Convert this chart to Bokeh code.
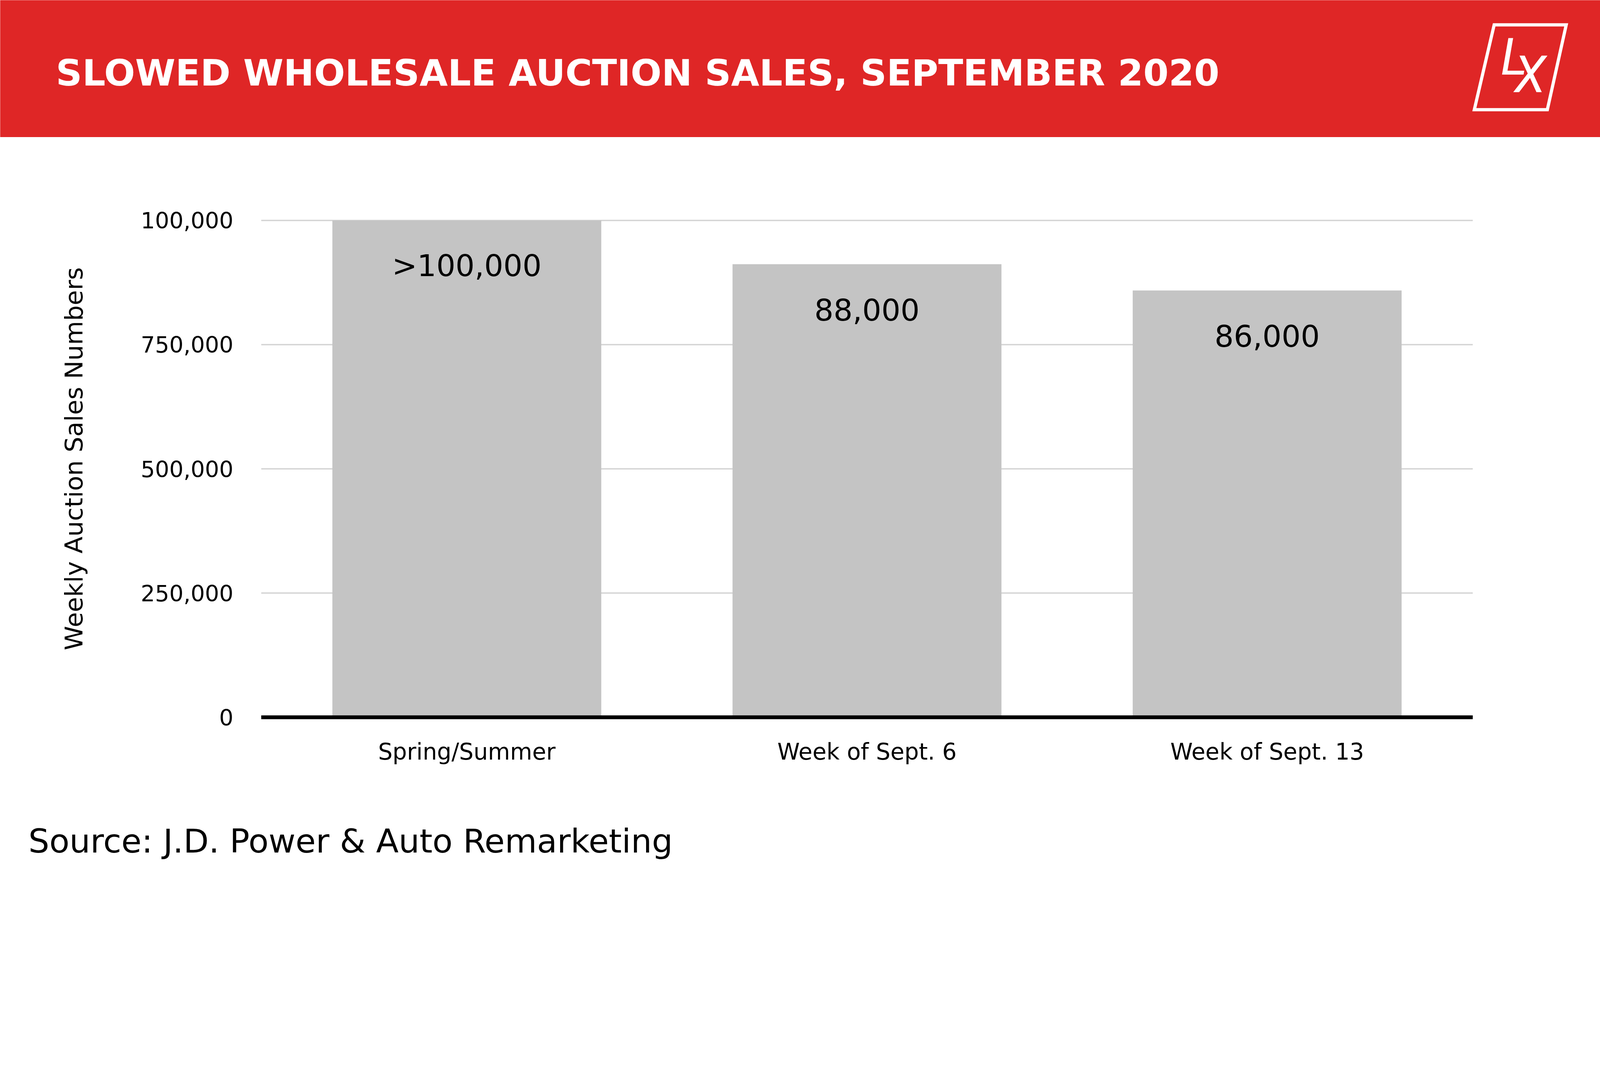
from bokeh.plotting import figure
from bokeh.models import ColumnDataSource, Range1d, FactorRange, FixedTicker, Span
from bokeh.layouts import column
from bokeh.core.properties import value
from bokeh.embed import file_html
from bokeh.resources import INLINE

FONT = "DejaVu Sans"
RED = "#DF2626"
BAR_GREY = "#C4C4C4"
GRID_GREY = "#D4D4D4"

title_text = "SLOWED WHOLESALE AUCTION SALES, SEPTEMBER 2020"
source_text = "Source: J.D. Power & Auto Remarketing"
y_label = "Weekly Auction Sales Numbers"

categories = ["Spring/Summer", "Week of Sept. 6", "Week of Sept. 13"]
bar_values = [1000000, 912000, 859000]
value_labels = [">100,000", "88,000", "86,000"]

y_ticks = [0, 250000, 500000, 750000, 1000000]
y_tick_labels = ["0", "250,000", "500,000", "750,000", "100,000"]

# the page is photographed at ~1.22 device px per css px; layout below is in device px
Z = 1.22
M = 0  # bokeh's page template drops the body margin


def css(v):
    return v / Z


def fs(v):
    return "%.1fpx" % css(v)


PAGE_W = int(5000 / Z) - 2 * M - 1
PAGE_H = int(2727 / Z) - 2 * M - 1

banner_h = round(css(428)) - M
chart_h = round(css(2450)) - round(css(428))
note_h = PAGE_H - banner_h - chart_h

# red header band, data units are device pixels (y pointing down)
banner = figure(width=PAGE_W, height=banner_h,
                x_range=Range1d(M * Z, (M + PAGE_W) * Z), y_range=Range1d((M + banner_h) * Z, M * Z),
                x_axis_location=None, y_axis_location=None, frame_align=False,
                output_backend="svg", toolbar_location=None, min_border=0,
                background_fill_color=RED, border_fill_color=RED, outline_line_color=None)
banner.grid.visible = False
banner.text(x=[174], y=[227], text=[title_text], text_font=value(FONT), text_font_style="bold",
            text_font_size=fs(114), text_color="white", text_baseline="middle")

# LX logo
banner.patch(x=[4666, 4891, 4832, 4604], y=[77, 77, 342, 342], fill_color=None,
             line_color="white", line_width=css(10), line_join="miter")
banner.text(x=[4686, 4729], y=[177, 233], text=["L", "X"], text_font=value("Roboto"),
            text_font_style="italic", text_font_size=fs(160), text_color="white",
            text_baseline="middle")

# bar chart
border_left = round(css(815)) - M
border_right = PAGE_W - (round(css(4599)) - M)
border_top = round(css(600)) - M - banner_h
frame_h = round(css(2264)) - round(css(600))
border_bottom = chart_h - border_top - frame_h

frame_top = (M + banner_h + border_top) * Z
frame_bottom = frame_top + frame_h * Z
zero_px, million_px = 2240, 688
per_unit = (zero_px - million_px) / 1000000
y_start = (zero_px - frame_bottom) / per_unit
y_end = (zero_px - frame_top) / per_unit

source = ColumnDataSource(data=dict(cat=categories, val=bar_values, label=value_labels))

chart = figure(width=PAGE_W, height=chart_h,
               x_range=FactorRange(factors=categories, range_padding=0.014, range_padding_units="absolute"),
               y_range=Range1d(y_start, y_end), frame_align=False,
               output_backend="svg", toolbar_location=None,
               min_border_left=border_left, min_border_right=border_right,
               min_border_top=border_top, min_border_bottom=border_bottom,
               outline_line_color=None)

chart.vbar(x="cat", top="val", width=0.672, source=source, fill_color=BAR_GREY, line_color=None)
chart.text(x="cat", y="val", text="label", source=source, y_offset=css(142),
           text_align="center", text_baseline="middle",
           text_font=value(FONT), text_font_size=fs(94), text_color="black")

chart.add_layout(Span(location=0, dimension="width", line_color="black", line_width=css(12)))

chart.xgrid.grid_line_color = None
chart.ygrid.grid_line_color = GRID_GREY
chart.ygrid.grid_line_width = css(4)

chart.yaxis.ticker = FixedTicker(ticks=y_ticks)
chart.yaxis.major_label_overrides = dict(zip(y_ticks, y_tick_labels))
chart.yaxis.axis_label = y_label
chart.yaxis.axis_label_text_font = FONT
chart.yaxis.axis_label_text_font_style = "normal"
chart.yaxis.axis_label_text_font_size = fs(77)
chart.yaxis.axis_label_text_color = "black"
chart.yaxis.axis_label_standoff = round(css(160))
chart.yaxis.major_label_standoff = round(css(79))

chart.xaxis.major_label_standoff = round(css(34))
chart.xaxis.major_label_text_font_size = fs(71)
chart.yaxis.major_label_text_font_size = fs(70)

chart.axis.major_label_text_font = FONT
chart.axis.major_label_text_color = "black"
chart.axis.axis_line_color = None
chart.axis.major_tick_line_color = None
chart.axis.minor_tick_line_color = None

# source note
note_top = (M + banner_h + chart_h) * Z
note = figure(width=PAGE_W, height=note_h,
              x_range=Range1d(M * Z, (M + PAGE_W) * Z), y_range=Range1d(note_top + note_h * Z, note_top),
              x_axis_location=None, y_axis_location=None, frame_align=False,
              output_backend="svg", toolbar_location=None, min_border=0, outline_line_color=None)
note.grid.visible = False
note.text(x=[88], y=[2627], text=[source_text], text_font=value(FONT),
          text_font_size=fs(103), text_color="black", text_baseline="middle")

p = column(banner, chart, note)

open("out.html", "w").write(file_html(p, INLINE))
